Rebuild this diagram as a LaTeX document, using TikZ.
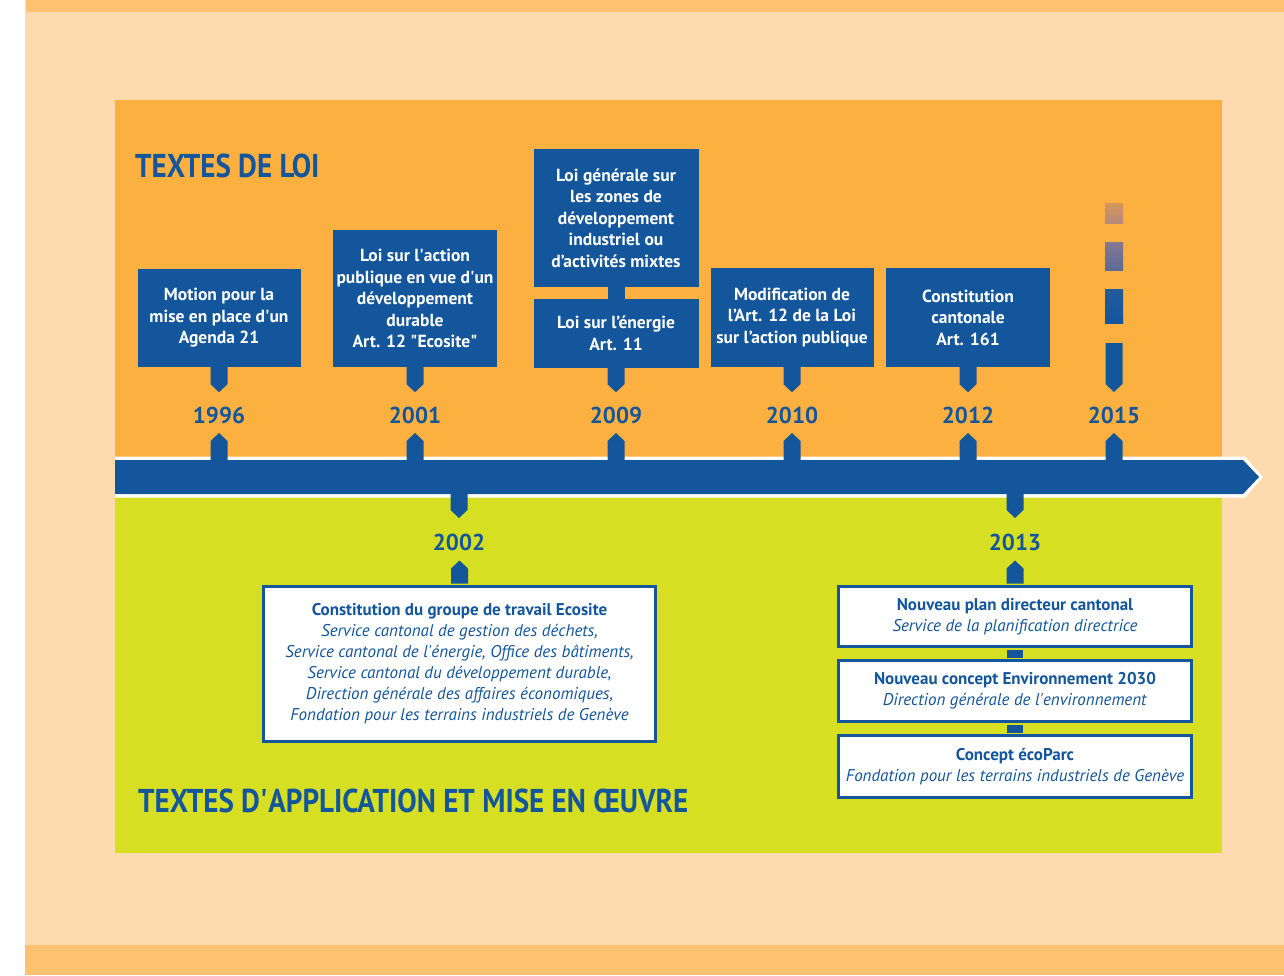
\documentclass[tikz,border=0pt]{standalone}
\usepackage{fontspec}
\setmainfont{PT Sans}
\newfontfamily\condfont[FakeStretch=0.88]{PT Sans}
\usetikzlibrary{calc}
\definecolor{tlblue}{RGB}{20,86,156}
\definecolor{peach}{RGB}{254,219,174}
\definecolor{stripor}{RGB}{252,193,113}
\definecolor{panelor}{RGB}{251,176,64}
\definecolor{panelgr}{RGB}{214,223,33}
\definecolor{dashA}{RGB}{214,150,92}
\definecolor{dashB}{RGB}{180,138,122}
\definecolor{dashC}{RGB}{135,119,146}
\definecolor{dashD}{RGB}{94,106,152}
\definecolor{dashE}{RGB}{34,92,154}
\newcommand\sq{\textquotesingle}
\newcommand\tlpdown[2]{\fill[tlblue] ($#1+(-8.5,0)$) -- ++(0,#2-8) -- ++(8.5,8) -- ++(8.5,-8) -- ++(0,8-#2) -- cycle;}
\newcommand\tlpup[2]{\fill[tlblue] ($#1+(-8.5,0)$) -- ++(0,8-#2) -- ++(8.5,-8) -- ++(8.5,8) -- ++(0,#2-8) -- cycle;}
\begin{document}
\begin{tikzpicture}[x=1pt,y=-1pt,
  lawbox/.style={fill=tlblue, text=white, font=\bfseries\fontsize{17.5}{21.5}\selectfont, align=center, inner sep=0pt},
  appbox/.style={fill=white, draw=tlblue, line width=3pt, text=tlblue, font=\fontsize{17}{21}\selectfont, align=center, inner sep=0pt},
  year/.style={text=tlblue, font=\bfseries\fontsize{23}{25}\selectfont, inner sep=0pt},
  sectitle/.style={text=tlblue, font=\condfont\bfseries\fontsize{33}{36}\selectfont, inner sep=0pt, anchor=base west}]
\useasboundingbox (0,0) rectangle (1284,975);
% background
\fill[white] (0,0) rectangle (1284,975);
\fill[peach] (25,0) rectangle (1284,975);
\fill[stripor] (26,0) rectangle (1284,12);
\fill[stripor] (25,945) rectangle (1284,975);
\fill[panelor] (115,100) rectangle (1222,477);
\fill[panelgr] (115,477) rectangle (1222,853);
% timeline bar
\fill[white] (115,456.5) -- (1245,456.5) -- (1263,477) -- (1245,497.5) -- (115,497.5) -- cycle;
\fill[tlblue] (115,460) -- (1243,460) -- (1259,477) -- (1243,494) -- (115,494) -- cycle;
\coordinate (barT) at (0,460);
\coordinate (barB) at (0,494);
\coordinate (yrowT) at (0,415);
\coordinate (yrowB) at (0,542);
% titles
\node[sectitle] (t1) at (135,177) {TEXTES DE LOI};
\node[sectitle] (t2) at (138,812) {TEXTES D\sq APPLICATION ET MISE EN ŒUVRE};
% law boxes
\node[lawbox, minimum width=163, minimum height=98] (b96) at (219,318) {Motion pour la\\mise en place d\sq un\\Agenda 21};
\node[lawbox, minimum width=164, minimum height=137] (b01) at (415,298.5) {Loi sur l\sq action\\publique en vue d\sq un\\développement\\durable\\Art. 12 \textquotedbl Ecosite\textquotedbl};
\node[lawbox, minimum width=165, minimum height=138] (b09a) at (616,218) {Loi générale sur\\les zones de\\développement\\industriel ou\\d’activités mixtes};
\node[lawbox, minimum width=165, minimum height=69] (b09b) at (616,333.5) {Loi sur l’énergie\\Art. 11};
\node[lawbox, minimum width=163, minimum height=99] (b10) at (792,317.5) {Modification de\\l’Art. 12 de la Loi\\sur l’action publique};
\node[lawbox, minimum width=164, minimum height=99] (b12) at (968,317.5) {Constitution\\cantonale\\Art. 161};
\fill[tlblue] ($(b09a.south)+(-8.5,0)$) rectangle ($(b09b.north)+(8.5,0)$);
% 2015 dashes
\shade[top color=dashA, bottom color=dashB] (1105,203) rectangle (1123,223);
\shade[top color=dashC, bottom color=dashD] (1105,242) rectangle (1123,270);
\shade[top color=dashE, bottom color=tlblue] (1105,289) rectangle (1123,323);
\coordinate (p15) at (1114,343);
% years (top)
\node[year] (y96) at (b96.south |- yrowT) {1996};
\node[year] (y01) at (b01.south |- yrowT) {2001};
\node[year] (y09) at (b09b.south |- yrowT) {2009};
\node[year] (y10) at (b10.south |- yrowT) {2010};
\node[year] (y12) at (b12.south |- yrowT) {2012};
\node[year] (y15) at (p15 |- yrowT) {2015};
% pointers (top)
\tlpdown{(b96.south)}{25}
\tlpdown{(b01.south)}{25}
\tlpdown{(b09b.south)}{24}
\tlpdown{(b10.south)}{25}
\tlpdown{(b12.south)}{25}
\tlpdown{(p15)}{49}
\tlpup{(y96 |- barT)}{27}
\tlpup{(y01 |- barT)}{27}
\tlpup{(y09 |- barT)}{27}
\tlpup{(y10 |- barT)}{27}
\tlpup{(y12 |- barT)}{27}
\tlpup{(y15 |- barT)}{27}
% lower part
\node[year] (y02) at (459,542) {2002};
\node[year] (y13) at (1015,542) {2013};
\node[appbox, minimum width=392, minimum height=155] (b02) at (459.5,664) {\textbf{Constitution du groupe de travail Ecosite}\\\textit{Service cantonal de gestion des déchets,}\\\textit{Service cantonal de l\sq énergie, Office des bâtiments,}\\\textit{Service cantonal du développement durable,}\\\textit{Direction générale des affaires économiques,}\\\textit{Fondation pour les terrains industriels de Genève}};
\node[appbox, minimum width=353, minimum height=60] (b13a) at (1015,616.5) {\textbf{Nouveau plan directeur cantonal}\\\textit{Service de la planification directrice}};
\node[appbox, minimum width=353, minimum height=61] (b13b) at (1015,691) {\textbf{Nouveau concept Environnement 2030}\\\textit{Direction générale de l\sq environnement}};
\node[appbox, minimum width=353, minimum height=62] (b13c) at (1015,766.5) {\textbf{Concept écoParc}\\\textit{Fondation pour les terrains industriels de Genève}};
\fill[tlblue] ($(b13a.south)+(-8,1.5)$) rectangle ($(b13b.north)+(8,-1.5)$);
\fill[tlblue] ($(b13b.south)+(-8,1.5)$) rectangle ($(b13c.north)+(8,-1.5)$);
\tlpdown{(y02 |- barB)}{24}
\tlpdown{(y13 |- barB)}{24}
\tlpup{($(b02.north)+(0,-1.5)$)}{23}
\tlpup{($(b13a.north)+(0,-1.5)$)}{23}
\end{tikzpicture}
\end{document}
